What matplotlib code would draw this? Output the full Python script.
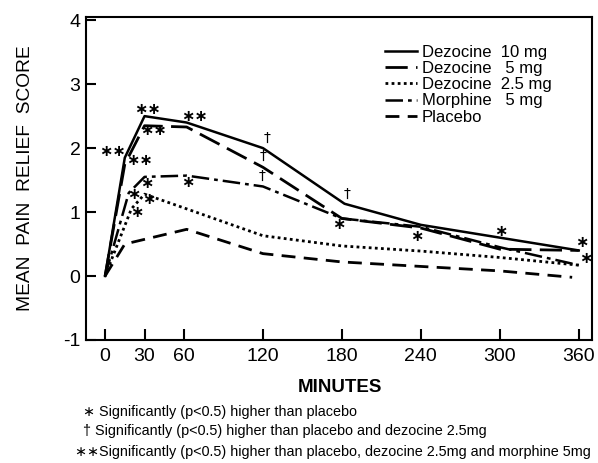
import matplotlib
matplotlib.use("Agg")
import matplotlib.pyplot as plt

plt.rcParams['font.family'] = ['Liberation Sans', 'DejaVu Sans']

# minutes / mean pain relief score
x_dez10 = [0, 15, 30, 62, 120, 182, 240, 300, 360]
y_dez10 = [0, 1.85, 2.5, 2.4, 2.0, 1.13, 0.8, 0.6, 0.4]

x_dez5 = [0, 15, 30, 62, 120, 180, 240, 300, 360]
y_dez5 = [0, 1.75, 2.35, 2.33, 1.7, 0.9, 0.75, 0.42, 0.4]

x_dez25 = [0, 20, 30, 62, 120, 180, 240, 300, 360]
y_dez25 = [0, 1.05, 1.28, 1.05, 0.63, 0.47, 0.39, 0.29, 0.17]

x_morph = [0, 18, 30, 62, 120, 180, 240, 300, 360]
y_morph = [0, 1.3, 1.55, 1.57, 1.4, 0.9, 0.77, 0.45, 0.17]

x_plac = [0, 15, 62, 120, 180, 240, 300, 355]
y_plac = [0, 0.5, 0.73, 0.35, 0.22, 0.15, 0.08, -0.02]

labels = ["Dezocine  10 mg", "Dezocine   5 mg", "Dezocine  2.5 mg",
          "Morphine   5 mg", "Placebo"]

# significance marks
mark_text = ["**", "**", "**", "**", "**", "\u2020", "\u2020", "\u2020",
             "*", "*", "*", "*", "*", "\u2020", "*", "*", "*", "*", "*"]
mark_x = [6, 32, 68, 37, 26, 123, 120, 119,
          32, 63, 22, 33, 24, 184, 178, 237, 301, 362, 365]
mark_y = [1.95, 2.6, 2.5, 2.28, 1.8, 2.16, 1.88, 1.57,
          1.45, 1.46, 1.27, 1.2, 1.0, 1.29, 0.8, 0.62, 0.7, 0.52, 0.27]

xticks = [0, 30, 60, 120, 180, 240, 300, 360]
yticks = [-1, 0, 1, 2, 3, 4]

notes = ["\u2217 Significantly (p<0.5) higher than placebo",
         "\u2020 Significantly (p<0.5) higher than placebo and dezocine 2.5mg",
         "\u2217\u2217Significantly (p<0.5) higher than placebo, dezocine 2.5mg and morphine 5mg"]

fig = plt.figure(figsize=(5.98, 4.63), dpi=100)
ax = fig.add_axes([0.1438, 0.2657, 0.846, 0.6976])

ax.plot(x_dez10, y_dez10, color="black", lw=1.8, label=labels[0])
ax.plot(x_dez5, y_dez5, color="black", lw=2.0, dashes=(8, 3), label=labels[1])
ax.plot(x_dez25, y_dez25, color="black", lw=2.0, dashes=(1, 1.2), label=labels[2])
ax.plot(x_morph, y_morph, color="black", lw=1.8, dashes=(7, 2, 1.5, 2), label=labels[3])
ax.plot(x_plac, y_plac, color="black", lw=2.0, dashes=(5, 3), label=labels[4])

for t, xx, yy in zip(mark_text, mark_x, mark_y):
    if t == "\u2020":
        ax.text(xx, yy, t, ha="center", va="center", fontsize=10,
                family="DejaVu Sans")
    else:
        ax.text(xx, yy, t.replace("*", "\u2217"), ha="center", va="center",
                fontsize=11.5, fontweight="bold", family="DejaVu Sans")

ax.set_xlim(-14.5, 370)
ax.set_ylim(-1, 4.05)
ax.set_xticks(xticks)
ax.set_yticks(yticks)
ax.set_yticklabels(["-1", "0", "1", "2", "3", "4"])
ax.tick_params(axis="both", direction="in", labelsize=14, width=1.5)
ax.tick_params(axis="x", length=8, pad=6)
ax.tick_params(axis="y", length=7, pad=4)
for s in ax.spines.values():
    s.set_linewidth(1.5)

ax.set_ylabel("MEAN  PAIN  RELIEF  SCORE", fontsize=13.8, labelpad=21)
fig.text(0.569, 0.162, "MINUTES", fontsize=13.5, fontweight="bold",
         ha="center", va="center")

fig.text(0.139, 0.110, notes[0], fontsize=10.4, va="center")
fig.text(0.139, 0.070, notes[1], fontsize=10.4, va="center")
fig.text(0.125, 0.024, notes[2], fontsize=10.4, va="center")

ax.legend(loc="upper left", bbox_to_anchor=(0.644, 0.903),
          bbox_transform=fig.transFigure, frameon=False, fontsize=12,
          handlelength=1.9, handletextpad=0.3, labelspacing=0.07,
          borderpad=0, borderaxespad=0)

fig.savefig("out.png", dpi=100)
